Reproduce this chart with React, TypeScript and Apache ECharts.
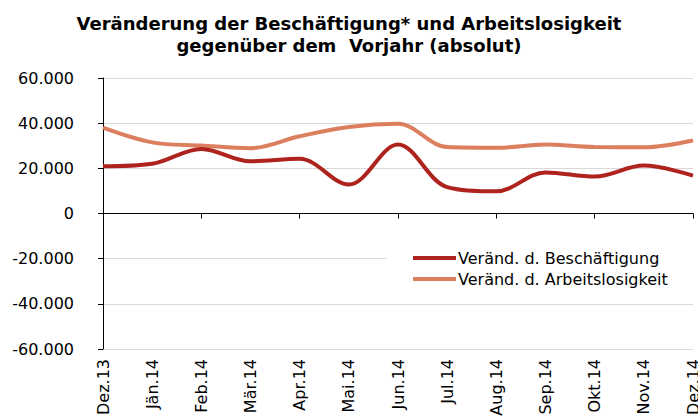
import React, { useEffect, useRef } from "react";
import * as echarts from "echarts";

const categories = ["Dez.13", "Jän.14", "Feb.14", "Mär.14", "Apr.14", "Mai.14", "Jun.14", "Jul.14", "Aug.14", "Sep.14", "Okt.14", "Nov.14", "Dez.14"];
const beschaeftigung = [20900, 22000, 28600, 23100, 24200, 12800, 30500, 11700, 9800, 18200, 16400, 21200, 16800];
const arbeitslosigkeit = [38000, 31500, 30100, 28900, 34200, 38300, 39700, 29400, 29100, 30500, 29400, 29300, 32300];
const yMin = -60000;
const yMax = 60000;
const yStep = 20000;

const FONT = "DejaVu Sans";

function fmt(v: number): string {
  const s = Math.abs(v).toString().replace(/\B(?=(\d{3})+(?!\d))/g, ".");
  return (v < 0 ? "-" : "") + s;
}

export default function App() {
  const ref = useRef<HTMLDivElement>(null);
  useEffect(() => {
    if (!ref.current) return;
    const chart = echarts.init(ref.current, null, { renderer: "svg" });
    chart.setOption({
      animation: false,
      backgroundColor: "#ffffff",
      textStyle: { fontFamily: FONT },
      title: {
        text: "Veränderung der Beschäftigung* und Arbeitslosigkeit\ngegenüber dem  Vorjahr (absolut)",
        left: "center",
        top: 7,
        textStyle: { fontFamily: FONT, fontSize: 18, fontWeight: "bold", color: "#000", lineHeight: 22 },
      },
      grid: { left: 103, right: 5, top: 78, bottom: 67, outerBoundsMode: "none", containLabel: false },
      legend: {
        orient: "vertical",
        left: 387,
        top: 246,
        padding: [3, 30, 3, 26],
        backgroundColor: "#ffffff",
        itemWidth: 43,
        itemHeight: 4,
        itemGap: 3,
        icon: "rect",
        textStyle: { fontFamily: FONT, fontSize: 16, color: "#000", padding: [0, 0, 0, -3], lineHeight: 18 },
        data: ["Veränd. d. Beschäftigung", "Veränd. d. Arbeitslosigkeit"],
      },
      xAxis: [
        {
          type: "category",
          data: categories,
          boundaryGap: false,
          axisLine: { onZero: true, lineStyle: { color: "#000", width: 1 } },
          axisTick: { show: true, length: 5, lineStyle: { color: "#000" } },
          axisLabel: { show: false },
          splitLine: { show: false },
        },
        {
          type: "category",
          data: categories,
          boundaryGap: false,
          position: "bottom",
          axisLine: { show: false },
          axisTick: { show: false },
          axisLabel: { show: true, rotate: 90, margin: 10, interval: 0, fontFamily: FONT, fontSize: 16, color: "#000" },
          splitLine: { show: false },
        },
      ],
      yAxis: {
        type: "value",
        min: yMin,
        max: yMax,
        interval: yStep,
        axisLine: { show: true, lineStyle: { color: "#000", width: 1 } },
        axisTick: { show: true, length: 5, lineStyle: { color: "#000" } },
        axisLabel: { margin: 29, fontFamily: FONT, fontSize: 16, color: "#000", formatter: (v: number) => fmt(v) },
        splitLine: { show: true, lineStyle: { color: "#d9d9d9", width: 1 } },
      },
      series: [
        {
          name: "Veränd. d. Beschäftigung",
          type: "line",
          data: beschaeftigung,
          smooth: 0.35,
          showSymbol: false,
          symbol: "none",
          xAxisIndex: 0,
          itemStyle: { color: "#AE231D" },
          lineStyle: { color: "#AE231D", width: 4 },
          z: 3,
        },
        {
          name: "Veränd. d. Arbeitslosigkeit",
          type: "line",
          data: arbeitslosigkeit,
          smooth: 0.35,
          showSymbol: false,
          symbol: "none",
          xAxisIndex: 0,
          itemStyle: { color: "#DC7F5E" },
          lineStyle: { color: "#DC7F5E", width: 4 },
          z: 2,
        },
      ],
    });
    return () => chart.dispose();
  }, []);
  return <div ref={ref} style={{ position: "fixed", left: 0, top: 0, width: 698, height: 416 }} />;
}
